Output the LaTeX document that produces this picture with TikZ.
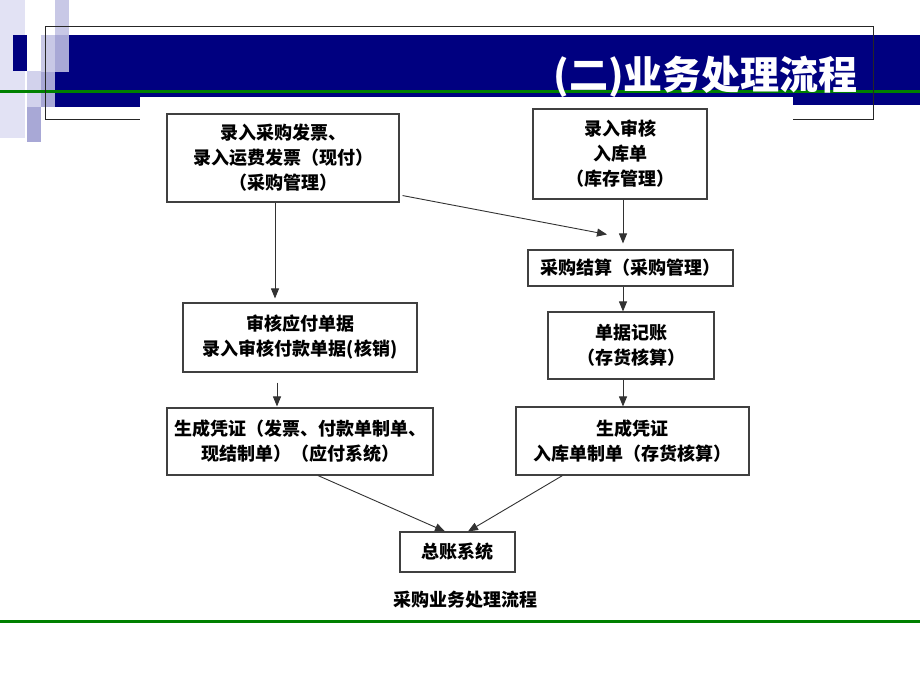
\documentclass[tikz,border=0pt]{standalone}
\usepackage{fontspec}
\newfontfamily\cjk{Noto Sans CJK SC}
\usetikzlibrary{arrows.meta,calc}
\definecolor{navy}{RGB}{0,0,128}
\definecolor{grn}{RGB}{0,128,0}
\definecolor{lavA}{RGB}{226,226,244}
\definecolor{lavB}{RGB}{200,200,230}
\definecolor{lavC}{RGB}{168,168,214}
\definecolor{lavD}{RGB}{210,210,236}
\definecolor{boxgray}{RGB}{64,64,64}
\definecolor{linegray}{RGB}{50,50,50}
\begin{document}
\begin{tikzpicture}[x=1pt,y=-1pt,
  box/.style={draw=boxgray, line width=1.1pt, fill=white, align=center,
    font=\cjk\bfseries\fontsize{18}{25}\selectfont, inner sep=0pt},
  arr/.style={draw=linegray, line width=0.9pt, -{Triangle[length=10pt,width=8pt]}},
  frame/.style={draw=black!85, line width=1pt}]
\useasboundingbox (0,0) rectangle (920,690);
\fill[white] (0,0) rectangle (920,690);
% decoration
\fill[lavA] (0,0) rectangle (25,138);
\fill[lavB] (55,0) rectangle (69,35);
\fill[lavC] (55,35) rectangle (69,72);
\fill[lavB] (41,35) rectangle (55,72);
\fill[navy] (13,35) rectangle (27,71);
\fill[lavD] (27,71) rectangle (41,107);
\fill[lavC] (41,72) rectangle (55,107);
\fill[lavC] (27,107) rectangle (41,142);
% title bar
\fill[navy] (69,35) rectangle (920,97);
\fill[navy] (55,72) rectangle (140,107);
\fill[navy] (793,97) rectangle (920,105);
\fill[grn] (0,90.5) rectangle (920,93.5);
\fill[grn] (0,619.5) rectangle (920,622.5);
% frame
\draw[frame] (45,120) -- (45,27) -- (873,27) -- (873,120) -- (793,120);
\draw[frame] (45,120) -- (140,120);
\node[anchor=base east, text=white, font=\cjk\bfseries\fontsize{39}{40}\selectfont, inner sep=0pt] (title) at (858,90) {(二)业务处理流程};
% boxes
\node[box, minimum width=232, minimum height=88] (A) at (283,158) {录入采购发票、\\录入运费发票（现付）\\（采购管理）};
\node[box, minimum width=174, minimum height=90] (B) at (620,154) {录入审核\\入库单\\（库存管理）};
\node[box, minimum width=205, minimum height=36] (C) at (630.5,268) {采购结算（采购管理）};
\node[box, minimum width=166, minimum height=67] (D) at (631,345.5) {单据记账\\（存货核算）};
\node[box, minimum width=233, minimum height=68] (E) at (632.5,441) {生成凭证\\入库单制单（存货核算）};
\node[box, minimum width=234, minimum height=69] (F) at (300,337.5) {审核应付单据\\录入审核付款单据(核销)};
\node[box, minimum width=266, minimum height=67] (G) at (300,441.5) {生成凭证（发票、付款单制单、\\现结制单）（应付系统）};
\node[box, minimum width=115, minimum height=40] (H) at (457.5,552) {总账系统};
\node[font=\cjk\bfseries\fontsize{18}{20}\selectfont, inner sep=0pt] (cap) at (465,600) {采购业务处理流程};
% arrows
\draw[arr] ([xshift=-8pt]A.south) -- ([xshift=-25pt,yshift=4pt]F.north);
\draw[arr] ([xshift=3pt,yshift=7pt]A.south east) -- ([xshift=-23.5pt,yshift=15pt]C.north);
\draw[arr] ([xshift=3pt]B.south) -- ([xshift=-7.5pt,yshift=6pt]C.north);
\draw[arr] ([xshift=-7.5pt]C.south) -- ([xshift=-8pt]D.north);
\draw[arr] ([xshift=-8pt]D.south) -- ([xshift=-9.5pt]E.north);
\draw[arr] ([xshift=-23pt,yshift=-10pt]F.south) -- ([xshift=-23pt,yshift=1pt]G.north);
\draw[arr] ([xshift=18pt]G.south) -- ([xshift=-12.5pt]H.north);
\draw[arr] ([xshift=-70pt]E.south) -- ([xshift=10.5pt]H.north);
\end{tikzpicture}
\end{document}
